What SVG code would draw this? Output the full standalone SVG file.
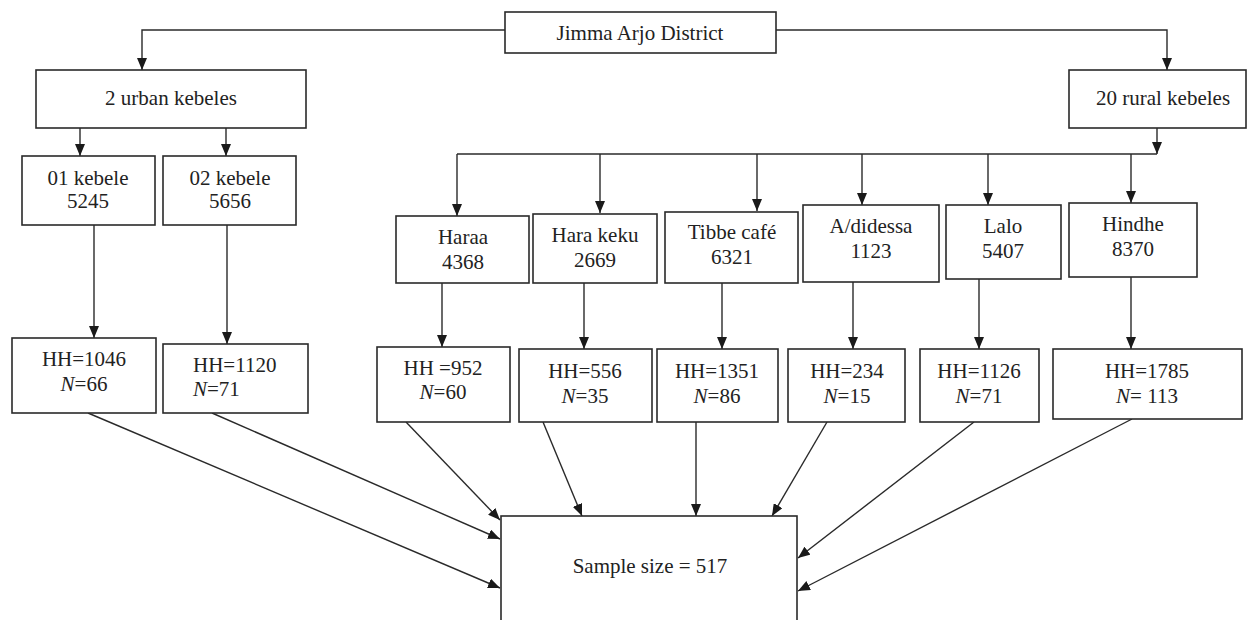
<svg xmlns="http://www.w3.org/2000/svg" width="1248" height="620" viewBox="0 0 1248 620">
<style>
.box{fill:#fff;stroke:#2a2a2a;stroke-width:1.6}
.t{font-family:"Liberation Serif","Times New Roman",serif;font-size:21px;fill:#222;text-anchor:middle}
.s{text-anchor:start}
.ln{fill:none;stroke:#2a2a2a;stroke-width:1.4}
.ar{marker-end:url(#ah)}
</style>
<defs>
<marker id="ah" viewBox="0 0 12 10" refX="12" refY="5" markerWidth="12" markerHeight="10" markerUnits="userSpaceOnUse" orient="auto">
<path d="M0,0 L12,5 L0,10 z" fill="#1a1a1a"/>
</marker>
</defs>
<rect width="1248" height="620" fill="#fff"/>
<g id="connectors">
<polyline class="ln ar" points="505,30 142,30 142,70"/>
<polyline class="ln ar" points="776,30 1167,30 1167,70"/>
<line class="ln ar" x1="80" y1="128" x2="80" y2="156"/>
<line class="ln ar" x1="226" y1="128" x2="226" y2="156"/>
<line class="ln ar" x1="1157" y1="128" x2="1157" y2="154"/>
<line class="ln" x1="457" y1="154" x2="1157" y2="154"/>
<line class="ln ar" x1="457" y1="154" x2="457" y2="216"/>
<line class="ln ar" x1="600" y1="154" x2="600" y2="213"/>
<line class="ln ar" x1="757" y1="154" x2="757" y2="211"/>
<line class="ln ar" x1="862" y1="154" x2="862" y2="205"/>
<line class="ln ar" x1="988" y1="154" x2="988" y2="205"/>
<line class="ln ar" x1="1131" y1="154" x2="1131" y2="203"/>
<line class="ln ar" x1="94" y1="225" x2="94" y2="338"/>
<line class="ln ar" x1="227" y1="225" x2="227" y2="344"/>
<line class="ln ar" x1="442" y1="283" x2="442" y2="347"/>
<line class="ln ar" x1="584" y1="283" x2="584" y2="349"/>
<line class="ln ar" x1="722" y1="283" x2="722" y2="349"/>
<line class="ln ar" x1="853" y1="282" x2="853" y2="349"/>
<line class="ln ar" x1="979" y1="279" x2="979" y2="349"/>
<line class="ln ar" x1="1131" y1="277" x2="1131" y2="349"/>
<line class="ln ar" x1="88" y1="413" x2="500" y2="588"/>
<line class="ln ar" x1="212" y1="413" x2="500" y2="539"/>
<line class="ln ar" x1="406" y1="422" x2="500" y2="520"/>
<line class="ln ar" x1="543" y1="422" x2="582" y2="516"/>
<line class="ln ar" x1="696" y1="422" x2="696" y2="516"/>
<line class="ln ar" x1="827" y1="422" x2="772" y2="516"/>
<line class="ln ar" x1="974" y1="422" x2="798" y2="558"/>
<line class="ln ar" x1="1132" y1="419" x2="798" y2="591"/>
</g>
<g id="district"><rect class="box" x="505" y="12" width="271" height="41"/><text class="t" x="640" y="40">Jimma Arjo District</text></g>
<g id="urban"><rect class="box" x="36" y="70" width="270" height="58"/><text class="t" x="171" y="105">2 urban kebeles</text></g>
<g id="rural"><rect class="box" x="1069" y="70" width="177" height="58"/><text class="t" x="1163" y="105">20 rural kebeles</text></g>
<g id="k01"><rect class="box" x="22" y="156" width="133" height="69"/><text class="t" x="88" y="185">01 kebele</text><text class="t" x="88" y="208">5245</text></g>
<g id="k02"><rect class="box" x="163" y="156" width="133" height="69"/><text class="t" x="230" y="185">02 kebele</text><text class="t" x="230" y="208">5656</text></g>
<g id="haraa"><rect class="box" x="396" y="216" width="133" height="67"/><text class="t" x="463" y="244">Haraa</text><text class="t" x="463" y="269">4368</text></g>
<g id="harakeku"><rect class="box" x="533" y="214" width="124" height="69"/><text class="t" x="595" y="242">Hara keku</text><text class="t" x="595" y="267">2669</text></g>
<g id="tibbe"><rect class="box" x="665" y="212" width="133" height="71"/><text class="t" x="732" y="239">Tibbe café</text><text class="t" x="732" y="264">6321</text></g>
<g id="adidessa"><rect class="box" x="803" y="205" width="136" height="77"/><text class="t" x="871" y="233">A/didessa</text><text class="t" x="871" y="258">1123</text></g>
<g id="lalo"><rect class="box" x="946" y="205" width="115" height="74"/><text class="t" x="1003" y="233">Lalo</text><text class="t" x="1003" y="258">5407</text></g>
<g id="hindhe"><rect class="box" x="1069" y="203" width="128" height="74"/><text class="t" x="1133" y="231">Hindhe</text><text class="t" x="1133" y="256">8370</text></g>
<g id="hh01"><rect class="box" x="12" y="338" width="144" height="75"/><text class="t" x="84" y="366">HH=1046</text><text class="t" x="84" y="391"><tspan font-style="italic">N</tspan>=66</text></g>
<g id="hh02"><rect class="box" x="163" y="344" width="145" height="69"/><text class="t s" x="193" y="372">HH=1120</text><text class="t s" x="193" y="396"><tspan font-style="italic">N</tspan>=71</text></g>
<g id="hhharaa"><rect class="box" x="377" y="347" width="133" height="75"/><text class="t" x="443" y="375">HH =952</text><text class="t" x="443" y="399"><tspan font-style="italic">N</tspan>=60</text></g>
<g id="hhharakeku"><rect class="box" x="519" y="349" width="133" height="73"/><text class="t" x="585" y="378">HH=556</text><text class="t" x="585" y="403"><tspan font-style="italic">N</tspan>=35</text></g>
<g id="hhtibbe"><rect class="box" x="657" y="349" width="121" height="73"/><text class="t" x="717" y="378">HH=1351</text><text class="t" x="717" y="403"><tspan font-style="italic">N</tspan>=86</text></g>
<g id="hhadidessa"><rect class="box" x="788" y="349" width="117" height="73"/><text class="t" x="847" y="378">HH=234</text><text class="t" x="847" y="403"><tspan font-style="italic">N</tspan>=15</text></g>
<g id="hhlalo"><rect class="box" x="920" y="349" width="119" height="73"/><text class="t" x="979" y="378">HH=1126</text><text class="t" x="979" y="403"><tspan font-style="italic">N</tspan>=71</text></g>
<g id="hhhindhe"><rect class="box" x="1053" y="349" width="189" height="70"/><text class="t" x="1147" y="378">HH=1785</text><text class="t" x="1147" y="403"><tspan font-style="italic">N</tspan>= 113</text></g>
<g id="sample"><rect class="box" x="501" y="516" width="296" height="110"/><text class="t" x="650" y="573">Sample size = 517</text></g>
</svg>
